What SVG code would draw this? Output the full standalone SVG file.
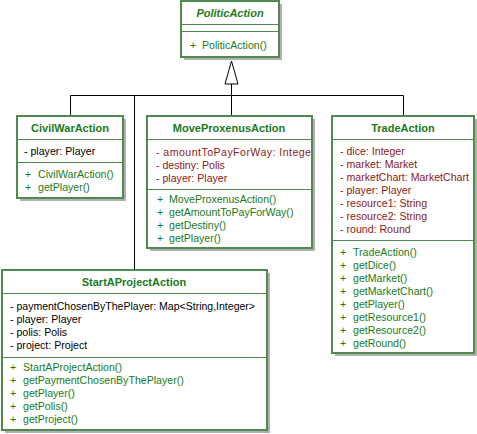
<svg xmlns="http://www.w3.org/2000/svg" width="477" height="434" viewBox="0 0 477 434">
<defs>
<style>
.box{fill:#ffffff;stroke:#4f8a4f;stroke-width:2}
.sh{fill:#b0b0b0}
.sep{stroke:#4f8a4f;stroke-width:1}
.t{font-family:"Liberation Sans",Arial,sans-serif;font-size:11px;font-weight:bold;fill:#1a7a1a;text-anchor:middle}
.a{font-family:"Liberation Sans",Arial,sans-serif;font-size:10.6px;fill:#8b1a1a}
.ab{font-family:"Liberation Sans",Arial,sans-serif;font-size:10.6px;fill:#000000}
.m{font-family:"Liberation Sans",Arial,sans-serif;font-size:10.6px;fill:#1a7a1a}
.ln{stroke:#000000;stroke-width:1;fill:none}
</style>
<clipPath id="cMP"><rect x="147" y="116" width="164" height="132"/></clipPath>
</defs>
<rect width="477" height="434" fill="#ffffff"/>
<g id="connectors">
<path class="ln" d="M70.5,116 V95.5 H403.5 V116"/>
<path class="ln" d="M134.5,95.5 V270"/>
<path class="ln" d="M231.5,84 V116"/>
<polygon points="231.5,61 225,84 238,84" fill="#ffffff" stroke="#000000" stroke-width="1"/>
</g>
<g id="PoliticAction">
<rect class="sh" x="184" y="4" width="98" height="56"/>
<rect class="box" x="181" y="1" width="98" height="56"/>
<line class="sep" x1="181" y1="24.5" x2="279" y2="24.5"/>
<line class="sep" x1="181" y1="31.5" x2="279" y2="31.5"/>
<text class="t" x="230" y="16.5" font-style="italic">PoliticAction</text>
<text class="m" x="190" y="49">+</text><text class="m" x="202" y="49">PoliticAction()</text>
</g>
<g id="CivilWarAction">
<rect class="sh" x="20" y="119" width="106" height="82"/>
<rect class="box" x="17" y="116" width="106" height="82"/>
<line class="sep" x1="17" y1="139.5" x2="123" y2="139.5"/>
<line class="sep" x1="17" y1="162.5" x2="123" y2="162.5"/>
<text class="t" x="70" y="131.5">CivilWarAction</text>
<text class="ab" x="24" y="155">- player: Player</text>
<text class="m" x="25" y="178">+</text><text class="m" x="38" y="178">CivilWarAction()</text>
<text class="m" x="25" y="191">+</text><text class="m" x="38" y="191">getPlayer()</text>
</g>
<g id="MoveProxenusAction">
<rect class="sh" x="150" y="119" width="165" height="132"/>
<rect class="box" x="147" y="116" width="165" height="132"/>
<line class="sep" x1="147" y1="139.5" x2="312" y2="139.5"/>
<line class="sep" x1="147" y1="189.5" x2="312" y2="189.5"/>
<text class="t" x="229" y="131.5">MoveProxenusAction</text>
<g clip-path="url(#cMP)">
<text class="a" x="156" y="156" textLength="159" lengthAdjust="spacing">- amountToPayForWay: Integer</text>
</g>
<text class="a" x="156" y="169">- destiny: Polis</text>
<text class="a" x="156" y="182">- player: Player</text>
<text class="m" x="157" y="203">+</text><text class="m" x="169" y="203">MoveProxenusAction()</text>
<text class="m" x="157" y="216">+</text><text class="m" x="169" y="216">getAmountToPayForWay()</text>
<text class="m" x="157" y="229">+</text><text class="m" x="169" y="229">getDestiny()</text>
<text class="m" x="157" y="242">+</text><text class="m" x="169" y="242">getPlayer()</text>
</g>
<g id="TradeAction">
<rect class="sh" x="335" y="119" width="142" height="237"/>
<rect class="box" x="332" y="116" width="142" height="237"/>
<line class="sep" x1="332" y1="139.5" x2="474" y2="139.5"/>
<line class="sep" x1="332" y1="240.5" x2="474" y2="240.5"/>
<text class="t" x="403" y="131.5">TradeAction</text>
<text class="a" x="340" y="155">- dice: Integer</text>
<text class="a" x="340" y="168">- market: Market</text>
<text class="a" x="340" y="181">- marketChart: MarketChart</text>
<text class="a" x="340" y="194">- player: Player</text>
<text class="a" x="340" y="207">- resource1: String</text>
<text class="a" x="340" y="220">- resource2: String</text>
<text class="a" x="340" y="233">- round: Round</text>
<text class="m" x="340" y="256">+</text><text class="m" x="353" y="256">TradeAction()</text>
<text class="m" x="340" y="269">+</text><text class="m" x="353" y="269">getDice()</text>
<text class="m" x="340" y="282">+</text><text class="m" x="353" y="282">getMarket()</text>
<text class="m" x="340" y="295">+</text><text class="m" x="353" y="295">getMarketChart()</text>
<text class="m" x="340" y="308">+</text><text class="m" x="353" y="308">getPlayer()</text>
<text class="m" x="340" y="321">+</text><text class="m" x="353" y="321">getResource1()</text>
<text class="m" x="340" y="334">+</text><text class="m" x="353" y="334">getResource2()</text>
<text class="m" x="340" y="347">+</text><text class="m" x="353" y="347">getRound()</text>
</g>
<g id="StartAProjectAction">
<rect class="sh" x="5" y="273" width="265" height="160"/>
<rect class="box" x="2" y="270" width="265" height="160"/>
<line class="sep" x1="2" y1="293.5" x2="267" y2="293.5"/>
<line class="sep" x1="2" y1="357.5" x2="267" y2="357.5"/>
<text class="t" x="134" y="286">StartAProjectAction</text>
<text class="ab" x="10" y="310" textLength="245" lengthAdjust="spacingAndGlyphs">- paymentChosenByThePlayer: Map&lt;String,Integer&gt;</text>
<text class="ab" x="10" y="323">- player: Player</text>
<text class="ab" x="10" y="336">- polis: Polis</text>
<text class="ab" x="10" y="349">- project: Project</text>
<text class="m" x="10" y="371">+</text><text class="m" x="23" y="371">StartAProjectAction()</text>
<text class="m" x="10" y="384">+</text><text class="m" x="23" y="384">getPaymentChosenByThePlayer()</text>
<text class="m" x="10" y="397">+</text><text class="m" x="23" y="397">getPlayer()</text>
<text class="m" x="10" y="410">+</text><text class="m" x="23" y="410">getPolis()</text>
<text class="m" x="10" y="423">+</text><text class="m" x="23" y="423">getProject()</text>
</g>
</svg>
